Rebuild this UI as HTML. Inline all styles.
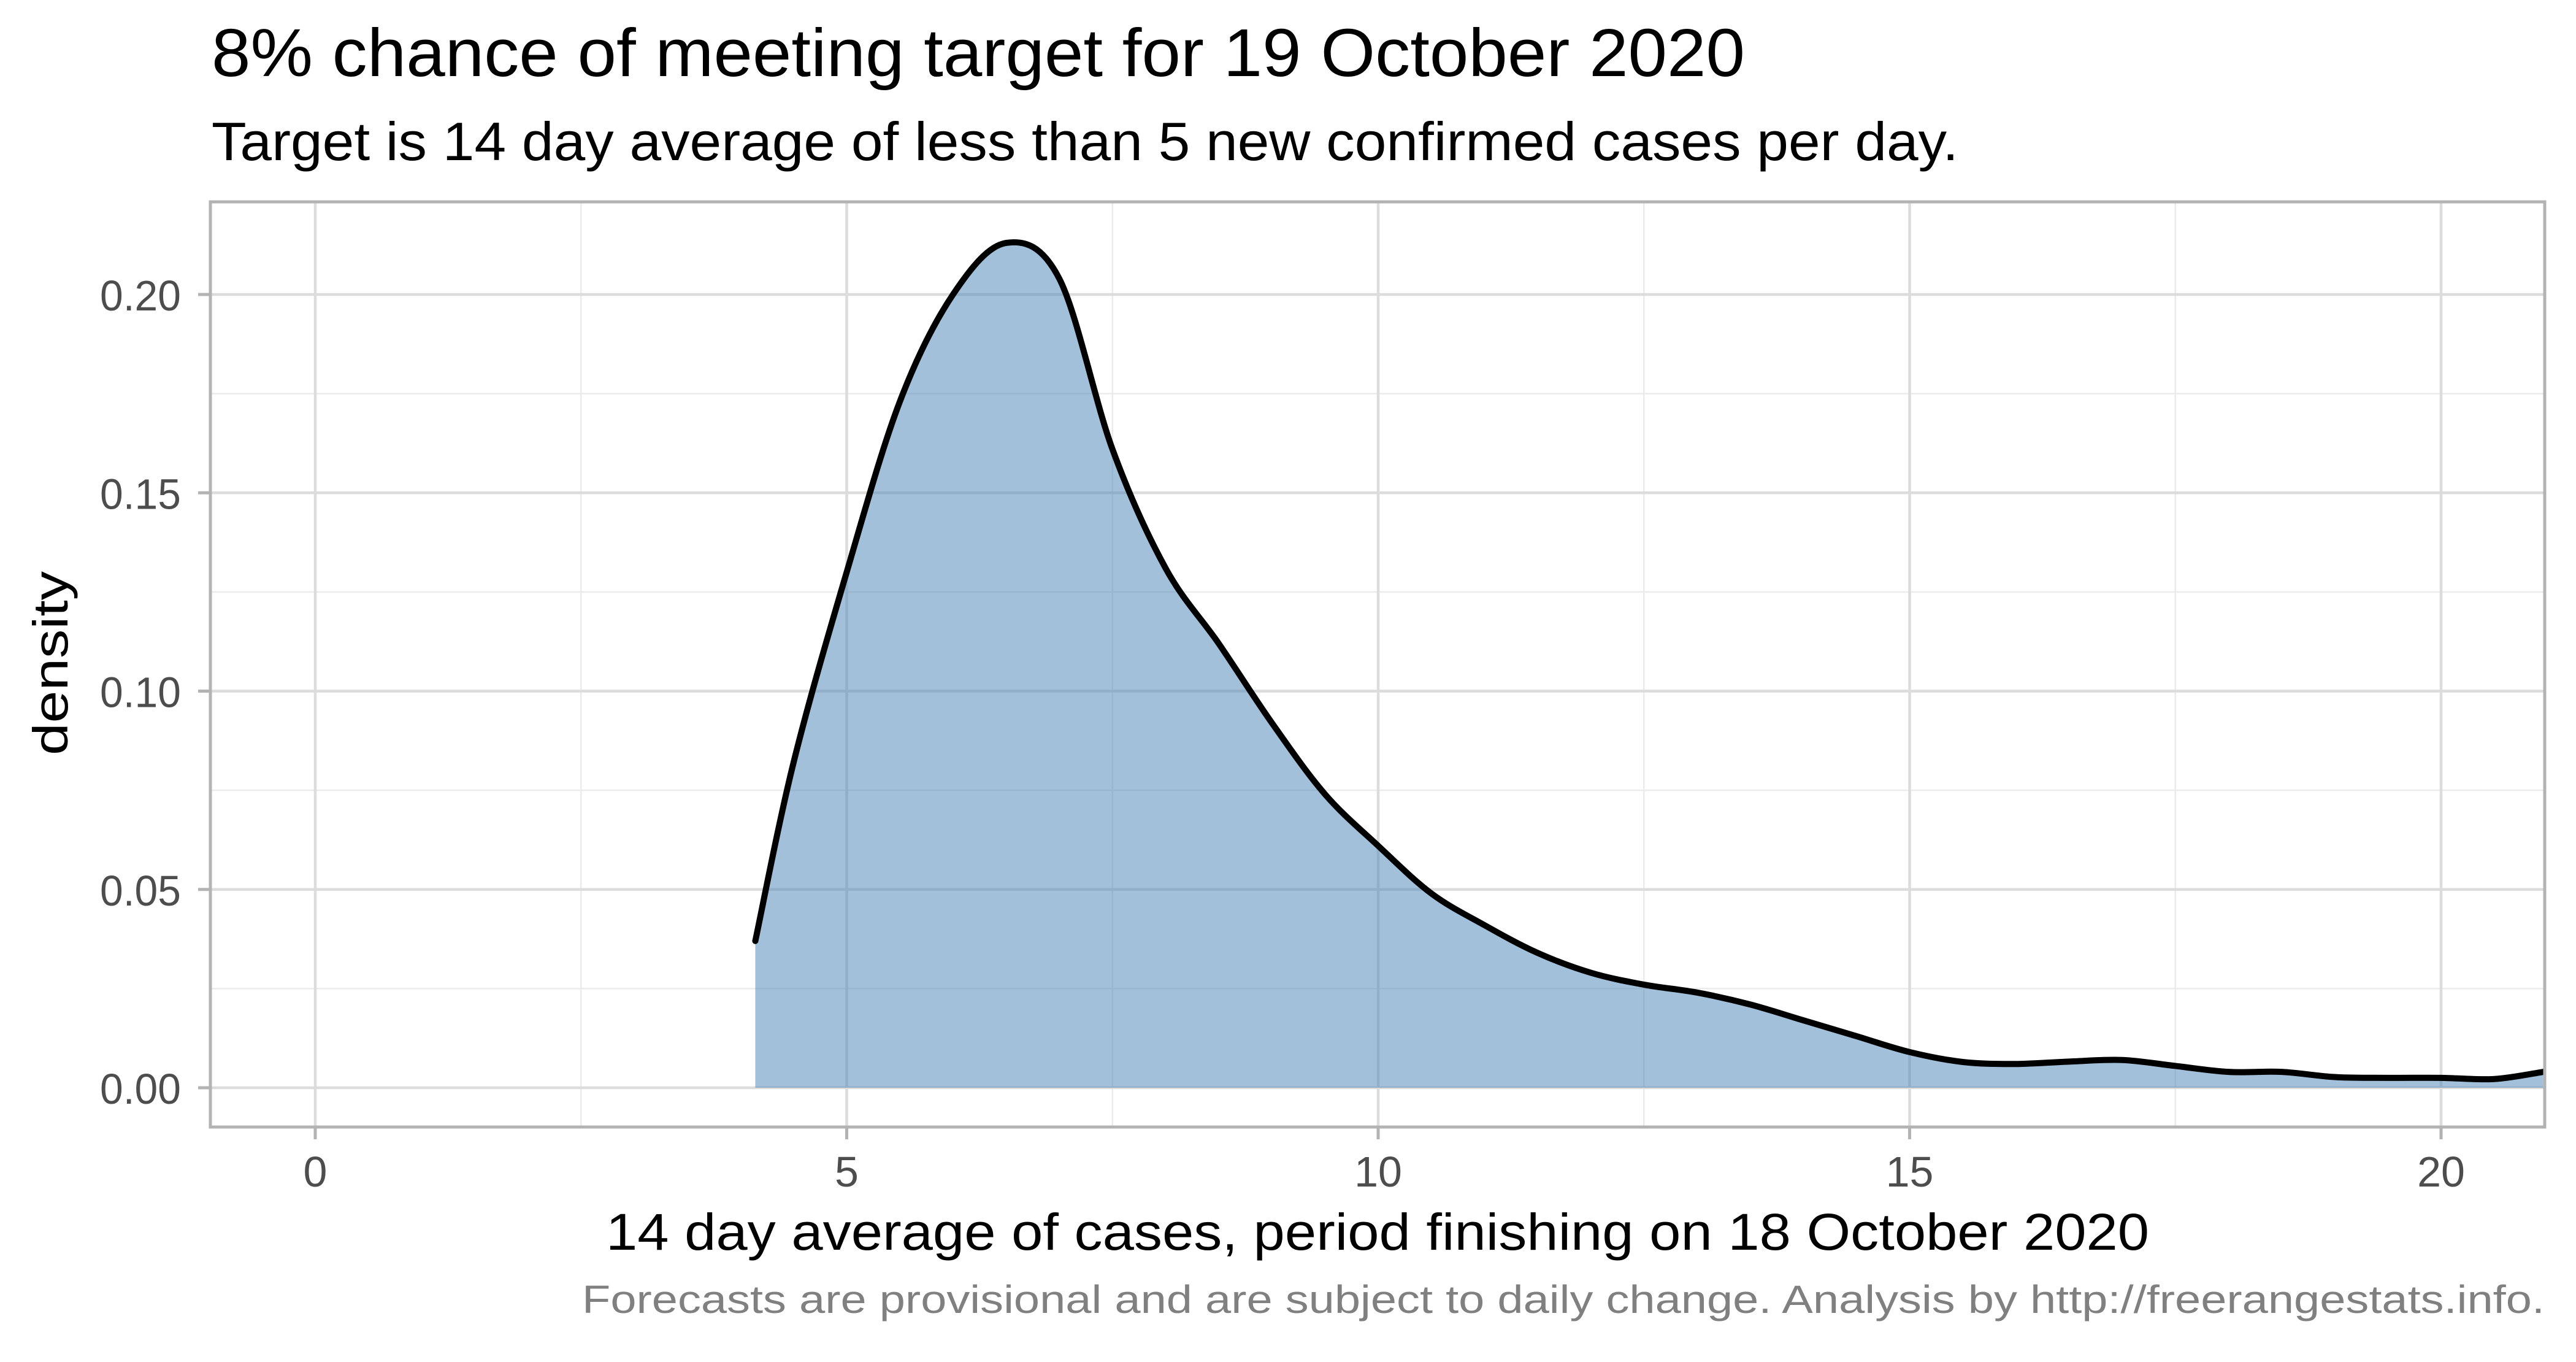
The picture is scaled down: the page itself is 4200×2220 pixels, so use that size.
<!DOCTYPE html>
<html><head><meta charset="utf-8"><style>
html,body{margin:0;padding:0;background:#fff}
svg{display:block}
text{font-family:"Liberation Sans",sans-serif}
</style></head><body>
<svg id="chart" width="4200" height="2220" viewBox="0 0 4200 2220" xmlns="http://www.w3.org/2000/svg">
<rect x="0" y="0" width="4200" height="2220" fill="#fff"/>
<text x="345" y="124" font-size="110" fill="#000" textLength="2500" lengthAdjust="spacingAndGlyphs">8% chance of meeting target for 19 October 2020</text>
<text x="345" y="261" font-size="88" fill="#000" textLength="2848" lengthAdjust="spacingAndGlyphs">Target is 14 day average of less than 5 new confirmed cases per day.</text>
<g id="grid"></g>
<g id="marks"></g>
<rect x="343" y="329" width="3806" height="1508" fill="none" stroke="#b3b3b3" stroke-width="5"/>
<g id="axes"></g>
<text transform="translate(110,1081) rotate(-90)" text-anchor="middle" font-size="80" fill="#000" textLength="300" lengthAdjust="spacingAndGlyphs">density</text>
<text x="2246" y="2037" text-anchor="middle" font-size="84" fill="#000" textLength="2516" lengthAdjust="spacingAndGlyphs">14 day average of cases, period finishing on 18 October 2020</text>
<text x="4149" y="2140" text-anchor="end" font-size="64" fill="#808080" textLength="3200" lengthAdjust="spacingAndGlyphs">Forecasts are provisional and are subject to daily change. Analysis by http://freerangestats.info.</text>
</svg>
<script>
const xValues = [4.14,4.5,5,5.5,6,6.5,7,7.5,8,8.5,9,9.5,10,10.5,11,11.5,12,12.5,13,13.5,14,14.5,15,15.5,16,16.5,17,17.5,18,18.5,19,19.5,20,20.5,20.96];
const densityValues = [0.037,0.082,0.13,0.173,0.2,0.213,0.204,0.161,0.131,0.112,0.092,0.074,0.061,0.049,0.041,0.034,0.029,0.026,0.024,0.021,0.017,0.013,0.009,0.0065,0.006,0.0066,0.007,0.0055,0.004,0.004,0.0027,0.0025,0.0025,0.0022,0.004];
const xTicks = [0,5,10,15,20];
const xTickLabels = ["0","5","10","15","20"];
const xMinor = [2.5,7.5,12.5,17.5];
const yTicks = [0,0.05,0.1,0.15,0.2];
const yTickLabels = ["0.00","0.05","0.10","0.15","0.20"];
const yMinor = [0.025,0.075,0.125,0.175];

const NS="http://www.w3.org/2000/svg";
const X0=514, XU=173.3, Y0=1773, YU=6465, PL=343, PR=4149, PT=329, PB=1837;
function sx(v){return X0+v*XU;}
function sy(v){return Y0-v*YU;}
function mk(tag,attrs,parent){const e=document.createElementNS(NS,tag);for(const k in attrs)e.setAttribute(k,attrs[k]);parent.appendChild(e);return e;}
const grid=document.getElementById('grid'), marks=document.getElementById('marks'), axes=document.getElementById('axes');

xMinor.forEach(v=>{const l=mk('line',{x1:sx(v),x2:sx(v),y1:PT,y2:PB,stroke:'#ebebeb','stroke-width':2.5},grid);

});
yMinor.forEach(v=>{const l=mk('line',{x1:PL,x2:PR,y1:sy(v),y2:sy(v),stroke:'#ebebeb','stroke-width':2.5},grid);

});
xTicks.forEach(v=>{const l=mk('line',{x1:sx(v),x2:sx(v),y1:PT,y2:PB,stroke:'#dcdcdc','stroke-width':4.5},grid);

});
yTicks.forEach(v=>{const l=mk('line',{x1:PL,x2:PR,y1:sy(v),y2:sy(v),stroke:'#dcdcdc','stroke-width':4.5},grid);

});

function smoothPath(pts){
  let d='M'+pts[0][0]+','+pts[0][1];
  for(let i=0;i<pts.length-1;i++){
    const p0=pts[i-1]||pts[i],p1=pts[i],p2=pts[i+1],p3=pts[i+2]||p2;
    const c1=[p1[0]+(p2[0]-p0[0])/6,p1[1]+(p2[1]-p0[1])/6];
    const c2=[p2[0]-(p3[0]-p1[0])/6,p2[1]-(p3[1]-p1[1])/6];
    d+=' C'+c1[0]+','+c1[1]+' '+c2[0]+','+c2[1]+' '+p2[0]+','+p2[1];
  }
  return d;
}
const pts=xValues.map((x,i)=>[sx(x),sy(densityValues[i])]);
const line=smoothPath(pts);
const area=mk('path',{d:line+' L'+pts[pts.length-1][0]+','+sy(0)+' L'+pts[0][0]+','+sy(0)+' Z',fill:'#4682b4','fill-opacity':0.5},marks);


const curve=mk('path',{d:line,fill:'none',stroke:'#000','stroke-width':10,'stroke-linecap':'round','stroke-linejoin':'round'},marks);



xTicks.forEach((v,i)=>{
  const t=mk('line',{x1:sx(v),x2:sx(v),y1:PB,y2:PB+20,stroke:'#b3b3b3','stroke-width':5},axes);
  
  
  const tx=mk('text',{x:sx(v),y:1934,'text-anchor':'middle','font-size':70,fill:'#4d4d4d'},axes);
  tx.textContent=xTickLabels[i];
  
  
});
yTicks.forEach((v,i)=>{
  const t=mk('line',{x1:PL-20,x2:PL,y1:sy(v),y2:sy(v),stroke:'#b3b3b3','stroke-width':5},axes);
  
  
  const tx=mk('text',{x:295,y:sy(v)+26,'text-anchor':'end','font-size':70,fill:'#4d4d4d',textLength:132,lengthAdjust:'spacingAndGlyphs'},axes);
  tx.textContent=yTickLabels[i];
  
  
});
</script>
</body></html>
